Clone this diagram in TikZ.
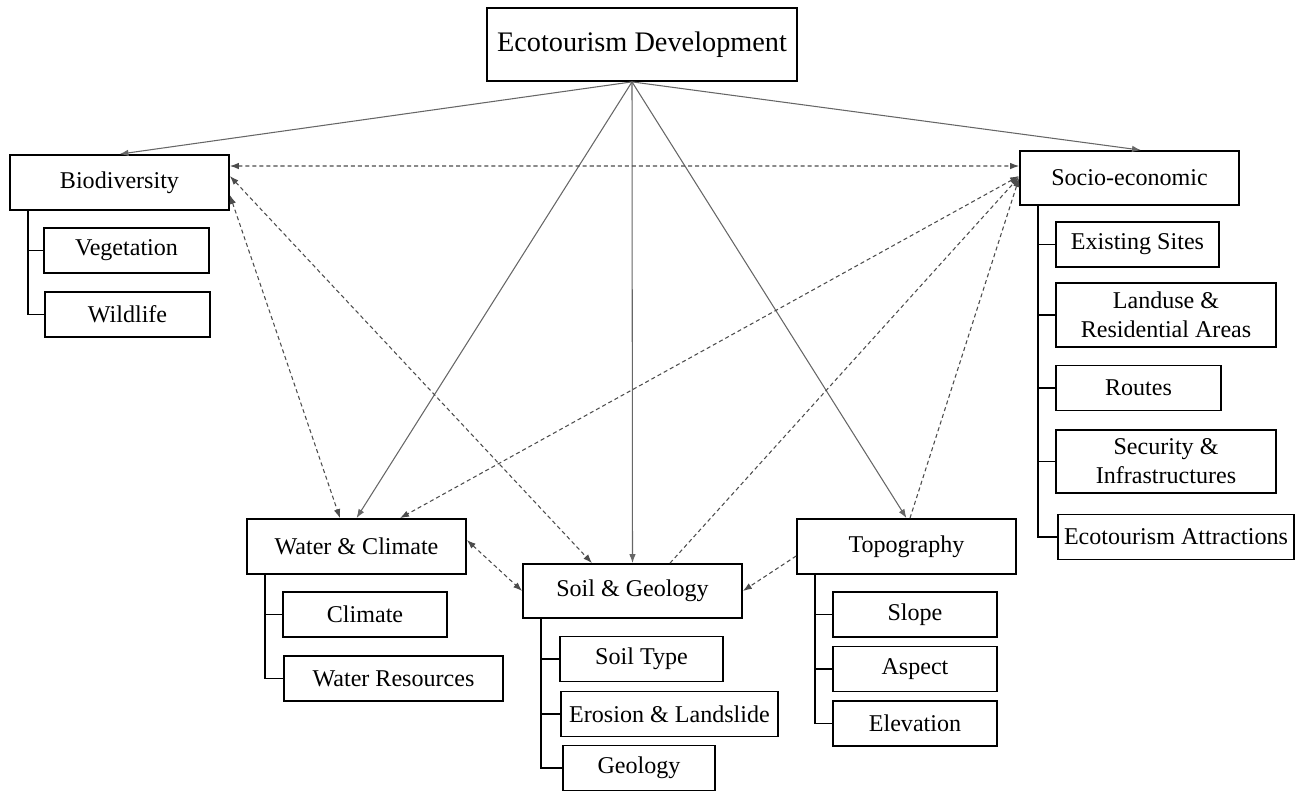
\documentclass[tikz,border=0pt]{standalone}
\usepackage{fontspec}
\setmainfont{Liberation Serif}
\usetikzlibrary{arrows.meta}

\begin{document}
\begin{tikzpicture}[x=0.02cm,y=-0.02cm,>={Latex[length=1.8mm,width=1.3mm]}]
\tikzset{mainbox/.style={draw,line width=1pt,minimum width=4.38cm,minimum height=1.1cm,inner sep=0pt,font=\fontsize{13.7}{16.4}\selectfont},
subbox/.style={mainbox,minimum width=3.28cm,minimum height=0.9cm},
twobox/.style={mainbox,minimum width=4.4cm,minimum height=1.28cm,align=center},
link/.style={draw=black!60,line width=0.6pt},
dlink/.style={draw=black!70,line width=0.6pt,dash pattern=on 2.3pt off 1.7pt},
tree/.style={draw,line width=1pt}}
\useasboundingbox (0,0) rectangle (1309,792);
% top
\node[mainbox,minimum width=6.2cm,minimum height=1.46cm,font=\fontsize{16.1}{19}\selectfont](eco) at (642,44.5){Ecotourism Development};
\coordinate (hub) at ([xshift=-0.2cm]eco.south);
% biodiversity
\node[mainbox](bio) at (119.5,182.5){Biodiversity};
\node[subbox,minimum width=3.3cm](veg) at (126.5,250.5){Vegetation};
\node[subbox,minimum width=3.3cm](wild) at (127.5,314.5){Wildlife};
\draw[tree] ([xshift=0.37cm]bio.south west) |- (veg.west);
\draw[tree] ([xshift=0.37cm]bio.south west) |- (wild.west);
% socio-economic
\node[mainbox,minimum height=1.08cm](soc) at (1129.5,178){Socio-economic};
\node[subbox,minimum width=3.26cm](sites) at (1137.5,244.5){Existing Sites};
\node[twobox](land) at (1166,315){Landuse \&\\Residential Areas};
\node[subbox,minimum width=3.3cm](routes) at (1138.5,388){Routes};
\node[twobox,minimum height=1.26cm](secur) at (1166,461.5){Security \&\\Infrastructures};
\node[subbox,minimum width=4.72cm](attr) at (1176,537){Ecotourism Attractions};
\foreach \s in {sites,land,routes,secur,attr}
  \draw[tree] ([xshift=0.38cm]soc.south west) |- (\s.west);
% water and climate
\node[mainbox](water) at (356.5,546.5){Water \& Climate};
\node[subbox](clim) at (365,614.5){Climate};
\node[subbox,minimum width=4.38cm](wres) at (393.5,678.5){Water Resources};
\draw[tree] ([xshift=0.37cm]water.south west) |- (clim.west);
\draw[tree] ([xshift=0.37cm]water.south west) |- (wres.west);
% soil and geology
\node[mainbox,minimum height=1.08cm](soil) at (632.5,591){Soil \& Geology};
\node[subbox,minimum width=3.26cm](stype) at (641.5,659){Soil Type};
\node[subbox,minimum width=4.34cm](eros) at (669.5,714){Erosion \& Landslide};
\node[subbox,minimum width=3.04cm](geol) at (639,768){Geology};
\foreach \s in {stype,eros,geol}
  \draw[tree] ([xshift=0.38cm]soil.south west) |- (\s.west);
% topography
\node[mainbox](topo) at (906.5,546.5){Topography};
\node[subbox](slope) at (915,614.5){Slope};
\node[subbox](aspect) at (915,669){Aspect};
\node[subbox](elev) at (915,723.5){Elevation};
\foreach \s in {slope,aspect,elev}
  \draw[tree] ([xshift=0.37cm]topo.south west) |- (\s.west);
% solid links from the top
\draw[link,->] (hub) -- (bio.north);
\draw[link,->] (hub) -- ([xshift=0.23cm]soc.north);
\draw[link,->] (hub) -- (water.north);
\draw[link,->] (hub) -- (soil.north);
\draw[link,->] (hub) -- (topo.north);
% dashed links
\draw[dlink,<->] ([yshift=0.33cm]bio.east) -- ([yshift=0.24cm]soc.west);
\draw[dlink,<->] ([yshift=0.13cm]bio.east) -- ([xshift=-0.81cm]soil.north);
\draw[dlink,<->] ([yshift=-0.25cm]bio.east) -- ([xshift=-0.33cm]water.north);
\draw[dlink,<->] ([yshift=0.04cm]soc.west) -- ([xshift=0.87cm]water.north);
\draw[dlink,->] ([xshift=0.75cm]soil.north) -- ([yshift=0.02cm]soc.west);
\draw[dlink,->] ([xshift=0.07cm]topo.north) -- (soc.west);
\draw[dlink,<->] ([yshift=0.13cm]water.east) -- (soil.west);
\draw[dlink,->] ([yshift=-0.19cm]topo.west) -- (soil.east);
\end{tikzpicture}
\end{document}
